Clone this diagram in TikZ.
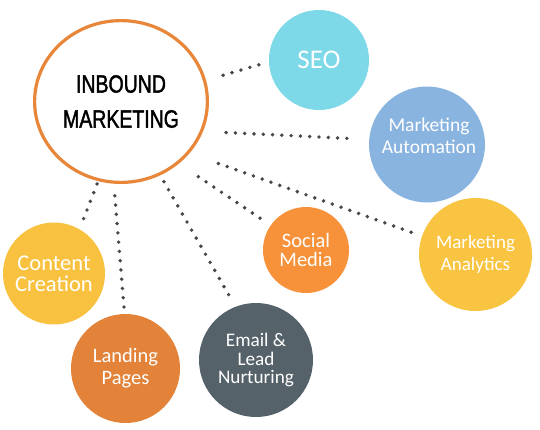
\documentclass[tikz,border=0pt]{standalone}
\usepackage{fontspec}
\usetikzlibrary{shapes.geometric}
\newfontfamily\condfont[FakeStretch=0.78,FakeBold=1.6]{Liberation Sans}
\newfontfamily\bubfont{Carlito}
\definecolor{ringorange}{HTML}{E8863A}
\definecolor{seoc}{HTML}{7DD8E8}
\definecolor{autoc}{HTML}{8AB4E0}
\definecolor{analc}{HTML}{F8C441}
\definecolor{socc}{HTML}{F7923B}
\definecolor{contc}{HTML}{F8C240}
\definecolor{landc}{HTML}{E3833A}
\definecolor{emailc}{HTML}{56626A}
\definecolor{dotc}{HTML}{45494F}
\begin{document}
\begin{tikzpicture}[x=1pt,y=-1pt,
  bubble/.style={circle,inner sep=0pt,outer sep=0pt,text=white,align=center},
  dotline/.style={draw=dotc,line width=3.9pt,line cap=round,dash pattern=on 0pt off 9.3pt}]
\useasboundingbox (0,0) rectangle (540,429);
\fill[white] (0,0) rectangle (540,429);
% hub
\node[ellipse,draw=ringorange,line width=3.2pt,fill=white,inner sep=0pt,outer sep=1.6pt,
  minimum width=172.8pt,minimum height=161.8pt,align=center,
  font=\condfont\fontsize{25}{35}\selectfont] (main) at (121,101.5) {INBOUND\\MARKETING};
% satellites
\node[bubble,fill=seoc,minimum size=100pt,font=\bubfont\fontsize{27}{30}\selectfont] (seo) at (319,60) {SEO};
\node[bubble,fill=autoc,minimum size=116pt] (auto) at (427,144.5) {};
\node[text=white,align=center,inner sep=0pt,font=\bubfont\fontsize{19.5}{22}\selectfont] (autotext) at (429,136) {Marketing\\Automation};
\node[bubble,fill=analc,minimum size=113pt,font=\bubfont\fontsize{19}{22}\selectfont] (anal) at (475.5,254.5) {Marketing\\Analytics};
\node[bubble,fill=socc,minimum size=86pt,font=\bubfont\fontsize{20.5}{18.5}\selectfont] (social) at (306,250) {Social\\Media};
\node[bubble,fill=emailc,minimum size=114pt,font=\bubfont\fontsize{19.2}{18.5}\selectfont] (email) at (256,360) {Email \&\\Lead\\Nurturing};
\node[bubble,fill=landc,minimum size=109pt,font=\bubfont\fontsize{20.5}{22}\selectfont] (landing) at (125.5,368.5) {Landing\\Pages};
\node[bubble,fill=contc,minimum size=102pt,font=\bubfont\fontsize{22.5}{21}\selectfont] (content) at (54,273.5) {Content\\Creation};
% dotted connectors
\draw[dotline,shorten <=17.8pt,shorten >=8.3pt] (main.14.5) -- (seo.182);
\draw[dotline,shorten <=23.1pt,shorten >=16.2pt] (main.-20.2) -- (auto.175.5);
\draw[dotline,shorten <=30.6pt,shorten >=5.2pt] (main.-37.4) -- (anal.161.7);
\draw[dotline,shorten <=23.4pt,shorten >=10.3pt] (main.-47.2) -- (social.145.7);
\draw[dotline,shorten <=7.3pt,shorten >=10.3pt] (main.-62.6) -- (email.111.5);
\draw[dotline,shorten <=12.1pt,shorten >=4pt] (main.265.9) -- (landing.91.3);
\draw[dotline,shorten <=3pt,shorten >=10.6pt] (main.254) -- (content.60.5);
\end{tikzpicture}
\end{document}
